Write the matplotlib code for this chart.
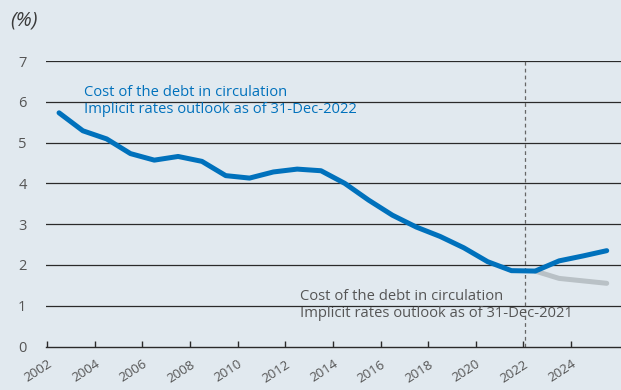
import numpy as np
import matplotlib
matplotlib.use("Agg")
import matplotlib.pyplot as plt

# Data
years = list(range(2002, 2026))
cost_2022 = [5.73, 5.29, 5.09, 4.73, 4.57, 4.66, 4.54, 4.19, 4.13, 4.28, 4.35, 4.31,
             4.00, 3.59, 3.22, 2.93, 2.70, 2.42, 2.08, 1.86, 1.85, 2.10, 2.22, 2.35]
years_2021 = [2022, 2023, 2024, 2025]
cost_2021 = [1.85, 1.67, 1.61, 1.55]
tick_years = list(range(2002, 2026, 2))
label_2022 = "Cost of the debt in circulation\nImplicit rates outlook as of 31-Dec-2022"
label_2021 = "Cost of the debt in circulation\nImplicit rates outlook as of 31-Dec-2021"

bg = "#e1e9ef"
blue = "#0071bc"
grey_line = "#b9c1c6"
text_grey = "#555555"

plt.rcParams['font.family'] = ['Open Sans', 'DejaVu Sans']

fig = plt.figure(figsize=(6.21, 3.9), dpi=100, facecolor=bg)
ax = fig.add_axes([0.074, 0.1115, 0.926, 0.732])
ax.set_facecolor(bg)

# points sit in the middle of each year
x_main = np.array(years) + 0.5
x_old = np.array(years_2021) + 0.5

for v in range(1, 8):
    ax.axhline(v, color="#2a2a2a", lw=0.9, zorder=1)

ax.axvline(2022.05, color="#666666", lw=0.9, ls=(0, (3, 2.5)), zorder=2)

ax.plot(x_old, cost_2021, color=grey_line, lw=3.6, solid_capstyle="round", zorder=3)
ax.plot(x_main, cost_2022, color=blue, lw=3.6, solid_capstyle="round",
        solid_joinstyle="round", zorder=4)

ax.text(2003.55, 5.73, label_2022, color=blue, fontsize=10.6, va="baseline",
        linespacing=1.2)
ax.text(2012.6, 0.73, label_2021, color=text_grey, fontsize=10.6, va="baseline",
        linespacing=1.2)

ax.set_xlim(2001.95, 2026.1)
ax.set_ylim(0, 7)
ax.set_yticks(range(0, 8))
ax.set_xticks(tick_years)
ax.set_xticklabels([str(y) for y in tick_years], rotation=33, ha="right",
                   rotation_mode="anchor")

for s in ["top", "right", "left"]:
    ax.spines[s].set_visible(False)
ax.spines["bottom"].set_color("#2a2a2a")
ax.spines["bottom"].set_linewidth(1.0)

ax.tick_params(axis="x", direction="in", length=4, width=1, color="#2a2a2a",
               labelsize=9.6, labelcolor=text_grey, pad=8)
ax.tick_params(axis="y", length=0, labelsize=10.5, labelcolor=text_grey, pad=14)

fig.text(0.016, 0.948, "(%)", fontsize=14.5, style="italic", color="#3a3a3a",
         va="center")

fig.savefig("out.png", dpi=100, facecolor=bg)
